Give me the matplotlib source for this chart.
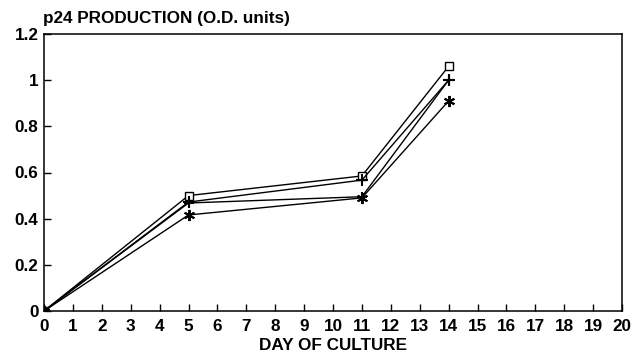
import matplotlib
matplotlib.use("Agg")
import matplotlib.pyplot as plt

days = [0, 5, 11, 14]
series_square = [0.0, 0.50, 0.585, 1.06]
series_plus = [0.0, 0.472, 0.567, 1.0]
series_plus2 = [0.0, 0.468, 0.495, 1.0]
series_star = [0.0, 0.416, 0.49, 0.91]
x_ticks = list(range(0, 21))
y_ticks = [0, 0.2, 0.4, 0.6, 0.8, 1.0, 1.2]
y_tick_labels = ["0", "0.2", "0.4", "0.6", "0.8", "1", "1.2"]

plt.rcParams['font.family'] = ['Liberation Sans', 'DejaVu Sans']

fig = plt.figure(figsize=(6.42, 3.56), dpi=100)
ax = fig.add_axes([44/642, 1 - 311/356, (622-44)/642, (311-34)/356])

lw = 1.0
ax.plot(days, series_square, color='black', lw=lw, marker='s', ms=6,
        mfc='white', mec='black', mew=1.0, zorder=3)
ax.plot(days, series_plus, color='black', lw=lw, marker='+', ms=8, mew=1.5, zorder=3)
ax.plot(days, series_plus2, color='black', lw=lw, marker='+', ms=7, mew=1.5, zorder=3)
ax.plot(days, series_star, color='black', lw=lw, marker=(6, 2, 0), ms=8, mew=1.4, zorder=3)

fs = 12.3
ax.set_xlim(0, 20)
ax.set_ylim(0, 1.2)
ax.set_xticks(x_ticks)
ax.set_xticklabels([str(t) for t in x_ticks], fontweight='bold', fontsize=fs)
ax.set_yticks(y_ticks)
ax.set_yticklabels(y_tick_labels, fontweight='bold', fontsize=fs)
ax.tick_params(axis='both', direction='in', length=5, width=1, colors='black', pad=4)
ax.tick_params(axis='x', pad=6)
for s in ax.spines.values():
    s.set_linewidth(1.1)
    s.set_color('black')

ax.set_xlabel("DAY OF CULTURE", fontweight='bold', fontsize=fs, labelpad=3)
fig.text(43/642, 1 - 19/356, "p24 PRODUCTION (O.D. units)", fontweight='bold',
         fontsize=fs, ha='left', va='center')

fig.savefig("out.png", dpi=100)
